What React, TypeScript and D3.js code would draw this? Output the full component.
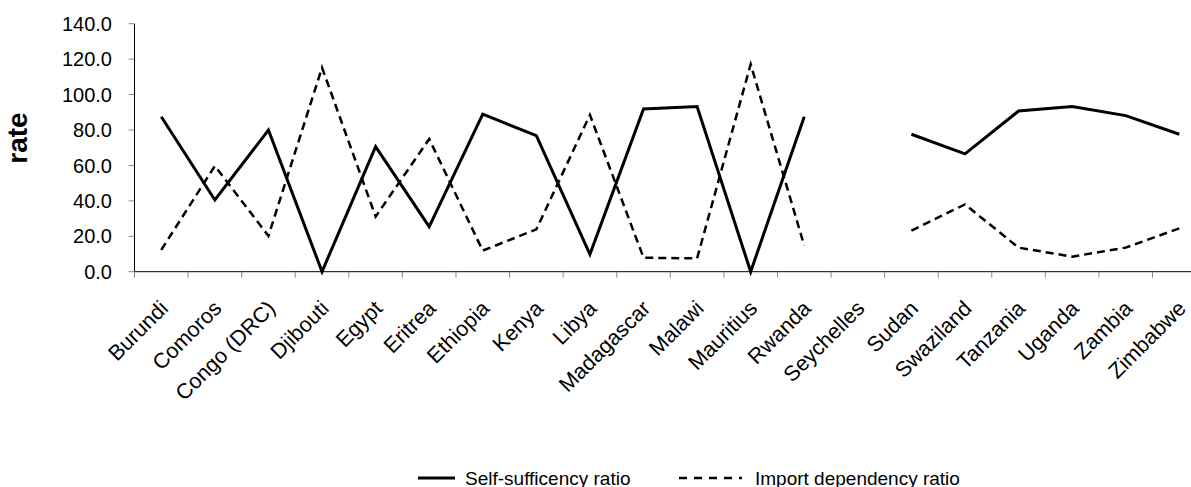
import React from "react";
import * as d3 from "d3";

const categories = [
  "Burundi", "Comoros", "Congo (DRC)", "Djibouti", "Egypt", "Eritrea", "Ethiopia",
  "Kenya", "Libya", "Madagascar", "Malawi", "Mauritius", "Rwanda", "Seychelles",
  "Sudan", "Swaziland", "Tanzania", "Uganda", "Zambia", "Zimbabwe",
];
const selfSufficiency: (number | null)[] = [
  87.5, 40.5, 80.0, 0.0, 70.6, 25.4, 88.9, 76.8, 9.8, 91.9, 93.2, 0.0, 87.5, null,
  77.6, 66.5, 90.7, 93.2, 88.1, 77.6,
];
const importDependency: (number | null)[] = [
  12.3, 59.7, 20.2, 115.2, 31.1, 74.9, 11.9, 23.9, 88.5, 7.9, 7.5, 117.1, 14.7, null,
  23.2, 38.0, 13.6, 8.5, 13.6, 24.5,
];
const yTicks = [0, 20, 40, 60, 80, 100, 120, 140];
const seriesNames = ["Self-sufficency ratio", "Import dependency ratio"];

const W = 1191;
const H = 487;
const font = "Arial, 'Liberation Sans', Helvetica, sans-serif";

export default function App() {
  const x0 = 134.5;
  const x1 = 1206.1;
  const band = d3.scaleBand<string>().domain(categories).range([x0, x1]).padding(0);
  const xp = (c: string) => (band(c) as number) + band.bandwidth() / 2;
  const y = d3.scaleLinear().domain([0, 140]).range([271.7, 23.7]);

  const line = d3
    .line<number | null>()
    .defined((d) => d !== null)
    .x((_, i) => xp(categories[i]))
    .y((d) => y(d as number));

  const boundaries = categories.map((c) => band(c) as number).concat([x1]);

  return (
    <div style={{ position: "absolute", left: 0, top: 0 }}>
      <svg width={W} height={H} style={{ display: "block", background: "#fff" }} fontFamily={font}>
        {/* y axis */}
        <line x1={x0} x2={x0} y1={y(140)} y2={y(0)} stroke="#000" strokeWidth={1} />
        {yTicks.map((t) => (
          <g key={t}>
            <line x1={x0 - 6} x2={x0} y1={y(t)} y2={y(t)} stroke="#888" strokeWidth={1} />
            <text x={112} y={y(t)} dy="0.36em" textAnchor="end" fontSize={20} fill="#000">
              {d3.format(".1f")(t)}
            </text>
          </g>
        ))}
        <text
          transform={`translate(27,138) rotate(-90)`}
          textAnchor="middle"
          fontSize={28}
          fontWeight="bold"
          fill="#000"
        >
          rate
        </text>
        {/* x axis */}
        <line x1={x0} x2={W} y1={y(0)} y2={y(0)} stroke="#000" strokeWidth={1} />
        {boundaries.map((b, i) => (
          <line key={i} x1={b} x2={b} y1={y(0)} y2={y(0) + 6} stroke="#888" strokeWidth={1} />
        ))}
        {categories.map((c) => (
          <text
            key={c}
            transform={`translate(${xp(c) + 8},${y(0) + 38}) rotate(-45)`}
            textAnchor="end"
            fontSize={21.5}
            fill="#000"
          >
            {c}
          </text>
        ))}
        {/* series */}
        <path d={line(importDependency) || ""} fill="none" stroke="#000" strokeWidth={2.5} strokeDasharray="8,5" />
        <path d={line(selfSufficiency) || ""} fill="none" stroke="#000" strokeWidth={3} />
        {/* legend */}
        <line x1={418} x2={455} y1={478} y2={478} stroke="#000" strokeWidth={3} />
        <text x={465} y={484.5} fontSize={19} fill="#000">{seriesNames[0]}</text>
        <line x1={679} x2={742} y1={478} y2={478} stroke="#000" strokeWidth={2.5} strokeDasharray="8,7" />
        <text x={755} y={484.5} fontSize={19} fill="#000">{seriesNames[1]}</text>
      </svg>
    </div>
  );
}
